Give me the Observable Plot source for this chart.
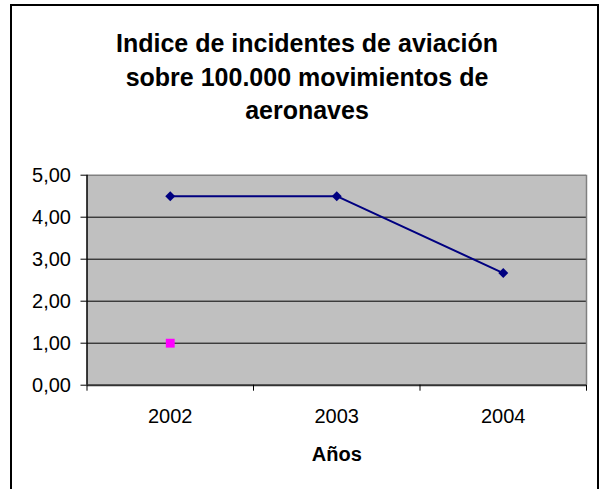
<!DOCTYPE html>
<html>
<head>
<meta charset="utf-8">
<script src="https://cdn.jsdelivr.net/npm/d3@7"></script>
<script src="https://cdn.jsdelivr.net/npm/@observablehq/plot@0.6"></script>
<style>
  html, body { margin: 0; padding: 0; background: #fff; }
  #wrap { position: relative; width: 601px; height: 489px; overflow: hidden; background: #fff; }
  #border { position: absolute; left: 10px; top: 4px; width: 589px; height: 600px; box-sizing: border-box; border: 2px solid #000; }
  #title { position: absolute; left: 0; top: 0; width: 614px; padding-top: 27px; text-align: center;
           font: bold 25px "Liberation Sans", Arial, sans-serif; line-height: 33.5px; color: #000; }
  #chart { position: absolute; left: 0; top: 140px; }
</style>
</head>
<body>
<div id="wrap">
  <div id="border"></div>
  <div id="title">Indice de incidentes de aviación<br>sobre 100.000 movimientos de<br>aeronaves</div>
  <div id="chart"></div>
</div>
<script>
// Data
const years = [2002, 2003, 2004];
const incidentes = [4.5, 4.5, 2.67];
const serie2Years = [2002];
const serie2Values = [1.0];
const yTicks = [0, 1, 2, 3, 4, 5];
const xTitle = "Años";

const main = years.map((y, i) => ({year: y, value: incidentes[i]}));
const extra = serie2Years.map((y, i) => ({year: y, value: serie2Values[i]}));
const bounds = years.map(y => y - 0.5).concat([years[years.length - 1] + 0.5]);
const xDomain = [bounds[0], bounds[bounds.length - 1]];
const fmt = d => d.toFixed(2).replace(".", ",");

const chart = Plot.plot({
  width: 601,
  height: 349,
  marginLeft: 86.5,
  marginRight: 15,
  marginTop: 34.7,
  marginBottom: 104.3,
  style: {fontSize: "20px", fontFamily: "'Liberation Sans', Arial, sans-serif", color: "#000", background: "transparent", overflow: "visible"},
  x: {type: "linear", domain: xDomain},
  y: {domain: [0, 5]},
  marks: [
    Plot.frame({fill: "#C0C0C0", stroke: "none"}),
    Plot.ruleY(yTicks.filter(d => d > 0 && d < 5), {stroke: "#000", strokeWidth: 1}),
    Plot.ruleY([5], {stroke: "#808080", strokeWidth: 1.5}),
    Plot.ruleX([xDomain[1]], {stroke: "#808080", strokeWidth: 1.5}),
    Plot.ruleX([xDomain[0]], {stroke: "#000", strokeWidth: 1.5}),
    Plot.ruleY([0], {stroke: "#333", strokeWidth: 2}),
    Plot.axisY({ticks: yTicks, tickFormat: fmt, tickSize: 6, tickPadding: 10, label: null, stroke: "#000"}),
    Plot.axisX({ticks: bounds, tickFormat: () => "", tickSize: 6, label: null, stroke: "#000"}),
    Plot.axisX({ticks: years, tickFormat: d => String(d), tickSize: 0, tickPadding: 24, label: null}),
    Plot.text([xTitle], {x: () => (xDomain[0] + xDomain[1]) / 2, text: d => d, frameAnchor: "bottom", lineAnchor: "bottom", dy: 75.3, fontWeight: "bold", fontSize: 20}),
    Plot.line(main, {x: "year", y: "value", stroke: "#000080", strokeWidth: 2}),
    Plot.dot(main, {x: "year", y: "value", symbol: "square", rotate: 45, r: 4, fill: "#000080", stroke: "none"}),
    Plot.dot(extra, {x: "year", y: "value", symbol: "square", r: 5, fill: "#FF00FF", stroke: "none"})
  ]
});
document.getElementById("chart").appendChild(chart);
</script>
</body>
</html>
